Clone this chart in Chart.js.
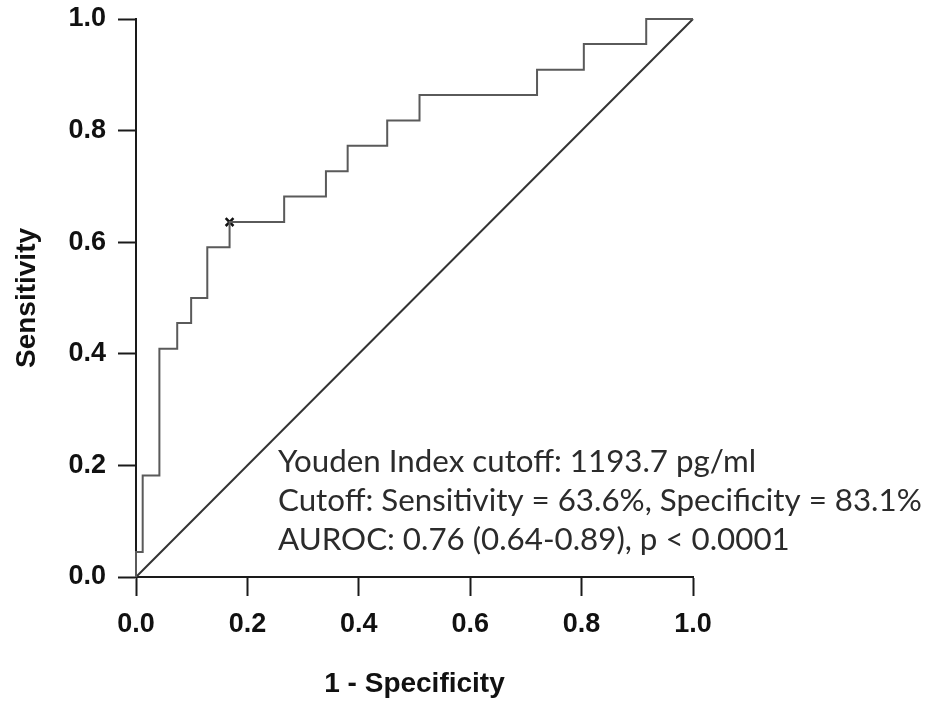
<!DOCTYPE html>
<html>
<head>
<meta charset="utf-8">
<script src="https://cdn.jsdelivr.net/npm/chart.js@4.4.1/dist/chart.umd.min.js"></script>
<style>
  html, body { margin: 0; padding: 0; background: #fff; }
  #wrap { width: 935px; height: 702px; }
</style>
</head>
<body>
<div id="wrap"><canvas id="roc" width="935" height="702"></canvas></div>
<script>
// ROC operating points: 1 - specificity / sensitivity
const fpr = [0, 0, 0.012, 0.042, 0.074, 0.099, 0.128, 0.168, 0.266, 0.341, 0.380, 0.451, 0.509, 0.720, 0.804, 0.916, 1.0]
const tpr = [0, 0.045, 0.182, 0.409, 0.455, 0.500, 0.591, 0.636, 0.682, 0.727, 0.773, 0.818, 0.864, 0.909, 0.955, 1.0, 1.0]

// Youden index cutoff point (marked with an x)
const youdenFpr = [0.168]
const youdenTpr = [0.636]

// chance diagonal
const chanceFpr = [0, 1]
const chanceTpr = [0, 1]

const tickValues = [0, 0.2, 0.4, 0.6, 0.8, 1.0]

const noteLines = [
    'Youden Index cutoff: 1193.7 pg/ml',
    'Cutoff: Sensitivity = 63.6%, Specificity = 83.1%',
    'AUROC: 0.76 (0.64-0.89), p < 0.0001'
]

const toPoints = (xs, ys) => xs.map((x, i) => ({x: x, y: ys[i]}))

const axisColor = '#1a1a1a'
const labelFont = {family: '"Liberation Sans", Arial, sans-serif', size: 27, weight: 'bold'}
const titleFont = {family: '"Liberation Sans", Arial, sans-serif', size: 28, weight: 'bold'}

// text block in the lower right of the plot
const notesPlugin = {
    id: 'rocNotes',
    afterDraw(chart) {
        const {ctx} = chart
        ctx.save()
        ctx.fillStyle = '#2b2b2b'
        ctx.textAlign = 'left'
        ctx.textBaseline = 'alphabetic'
        let size = 24
        ctx.font = `${size}px Lato`
        const w = ctx.measureText(noteLines[1]).width
        size = size * 644 / w
        ctx.font = `${size}px Lato`
        noteLines.forEach((line, i) => {
            ctx.fillText(line, 278, 472 + i * 39)
        })
        ctx.restore()
    }
}

const fixedTicks = (scale) => {
    scale.ticks = tickValues.map(v => ({value: v}))
}

new Chart(document.getElementById('roc'), {
    type: 'line',
    data: {
        datasets: [
            {
                label: 'ROC',
                data: toPoints(fpr, tpr),
                borderColor: '#5a5a5a',
                borderWidth: 2,
                pointRadius: 0,
                stepped: 'before',
                fill: false,
                clip: false
            },
            {
                label: 'Chance',
                data: toPoints(chanceFpr, chanceTpr),
                borderColor: '#333333',
                borderWidth: 2,
                pointRadius: 0,
                fill: false,
                clip: false
            },
            {
                type: 'scatter',
                label: 'Youden',
                data: toPoints(youdenFpr, youdenTpr),
                pointStyle: 'crossRot',
                pointRadius: 5.5,
                borderColor: '#111111',
                borderWidth: 2.5,
                clip: false
            }
        ]
    },
    options: {
        responsive: false,
        animation: false,
        layout: {
            padding: {left: 0, top: 19, right: 242, bottom: 0}
        },
        plugins: {
            legend: {display: false},
            tooltip: {enabled: false}
        },
        scales: {
            x: {
                type: 'linear',
                min: 0,
                max: 1,
                afterBuildTicks: fixedTicks,
                afterFit: (scale) => {
                    scale.height = 125
                    scale.paddingLeft = 0
                    scale.paddingRight = 0
                },
                border: {display: true, color: axisColor, width: 2},
                grid: {
                    display: true,
                    drawOnChartArea: false,
                    drawTicks: true,
                    tickLength: 19,
                    tickColor: axisColor,
                    tickWidth: 2
                },
                ticks: {
                    color: '#111111',
                    font: labelFont,
                    padding: 12,
                    maxRotation: 0,
                    callback: (v) => v.toFixed(1)
                },
                title: {
                    display: true,
                    text: '1 - Specificity',
                    color: '#111111',
                    font: titleFont,
                    padding: {top: 0, bottom: 1}
                }
            },
            y: {
                type: 'linear',
                min: 0,
                max: 1,
                afterBuildTicks: fixedTicks,
                afterFit: (scale) => {
                    scale.width = 136
                    scale.paddingTop = 0
                    scale.paddingBottom = 0
                },
                border: {display: true, color: axisColor, width: 2},
                grid: {
                    display: true,
                    drawOnChartArea: false,
                    drawTicks: true,
                    tickLength: 18,
                    tickColor: axisColor,
                    tickWidth: 2
                },
                ticks: {
                    color: '#111111',
                    font: labelFont,
                    padding: 12,
                    callback: (v) => v.toFixed(1)
                },
                title: {
                    display: true,
                    text: 'Sensitivity',
                    color: '#111111',
                    font: titleFont,
                    padding: {top: 10, bottom: 0}
                }
            }
        }
    },
    plugins: [notesPlugin]
})
</script>
</body>
</html>
